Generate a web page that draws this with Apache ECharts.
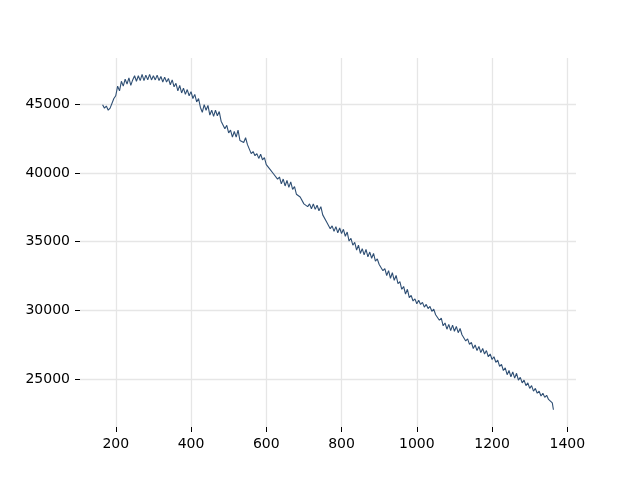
<!DOCTYPE html>
<html>
<head>
<meta charset="utf-8">
<script src="https://cdn.jsdelivr.net/npm/echarts@6/dist/echarts.min.js"></script>
<style>
html,body{margin:0;padding:0;background:#fff;}
#chart{width:640px;height:480px;}
</style>
</head>
<body>
<div id="chart"></div>
<script>
const xValues = [165,170,175,180,185,190,195,200,205,210,215,220,225,230,235,240,245,250,255,260,265,270,275,280,285,290,295,300,305,310,315,320,325,330,335,340,345,350,355,360,365,370,375,380,385,390,395,400,405,410,415,420,425,430,435,440,445,450,455,460,465,470,475,480,485,490,495,500,505,510,515,520,525,530,535,540,545,550,555,560,565,570,575,580,585,590,595,600,605,610,615,620,625,630,635,640,645,650,655,660,665,670,675,680,685,690,695,700,705,710,715,720,725,730,735,740,745,750,755,760,765,770,775,780,785,790,795,800,805,810,815,820,825,830,835,840,845,850,855,860,865,870,875,880,885,890,895,900,905,910,915,920,925,930,935,940,945,950,955,960,965,970,975,980,985,990,995,1000,1005,1010,1015,1020,1025,1030,1035,1040,1045,1050,1055,1060,1065,1070,1075,1080,1085,1090,1095,1100,1105,1110,1115,1120,1125,1130,1135,1140,1145,1150,1155,1160,1165,1170,1175,1180,1185,1190,1195,1200,1205,1210,1215,1220,1225,1230,1235,1240,1245,1250,1255,1260,1265,1270,1275,1280,1285,1290,1295,1300,1305,1310,1315,1320,1325,1330,1335,1340,1345,1350,1355,1360,1363];
const yValues = [
44950,44700,44850,44550,44700,44600,45400,45600,46300,45950,
46650,46300,46800,46450,46900,46350,46750,47050,46650,47050,
46700,47150,46700,47100,46750,47150,46750,47050,46750,47100,
46700,47000,46600,46950,46600,46850,46400,46750,46250,46500,
45950,46350,45800,46150,45700,46050,45600,45900,45400,45700,
45150,45400,44750,44400,44950,44550,44900,44200,44550,44100,
44550,44150,44450,43750,43850,43200,43450,42900,43100,42600,
43000,42600,43100,42350,42450,42200,42550,42050,42000,41400,
41550,41250,41400,41050,41350,40950,41100,40600,40500,40250,
40250,39900,39950,39550,39700,39200,39550,39050,39450,38950,
39350,38800,39000,38450,38550,38250,38250,37750,37850,37550,
37750,37400,37750,37350,37650,37250,37550,36950,37000,36450,
36550,35950,36150,35750,36100,35650,36000,35600,35900,35400,
35700,35050,35250,34750,34950,34400,34750,34150,34500,34050,
34450,33900,34250,33800,34150,33600,33750,33350,33450,32900,
33050,32550,32900,32350,32750,32200,32550,31950,32100,31550,
31750,31200,31550,30950,31100,30700,30850,30500,30750,30450,
30600,30250,30450,30150,30300,29950,30100,29700,29800,29300,
29450,28900,29100,28650,29000,28550,28950,28500,28850,28400,
28700,28250,28350,27800,27950,27550,27700,27250,27500,27100,
27400,26950,27250,26850,27100,26650,26850,26450,26650,26250,
26400,25950,26100,25650,25850,25350,25650,25200,25550,25100,
25450,24950,25150,24750,24950,24550,24750,24350,24550,24150,
24350,24000,24150,23800,24000,23700,23850,23550,23650,23300,
22800];
const xTicks = [200,400,600,800,1000,1200,1400];
const yTicks = [25000,30000,35000,40000,45000];

const chart = echarts.init(document.getElementById('chart'), null, {renderer:'canvas'});
const pairs = xValues.map((x,i)=>[x,yValues[i]]);
const labelStyle = {color:'#000', fontFamily:'DejaVu Sans', fontSize:14, formatter:(v)=>String(v)};
chart.setOption({
  animation:false,
  backgroundColor:'#fff',
  grid:{left:80,right:64,top:58,bottom:53,containLabel:false},
  xAxis:{
    type:'value', min:105, max:1423,
    axisLine:{show:false},
    axisTick:{show:true,length:5,lineStyle:{color:'#000',width:1},customValues:xTicks},
    axisLabel:Object.assign({margin:10,customValues:xTicks},labelStyle),
    splitLine:{show:true,lineStyle:{color:'#e6e6e6',width:1.3}}
  },
  yAxis:{
    type:'value', min:21550, max:48340,
    axisLine:{show:false},
    axisTick:{show:true,length:5,lineStyle:{color:'#000',width:1},customValues:yTicks},
    axisLabel:Object.assign({margin:10,customValues:yTicks},labelStyle),
    splitLine:{show:true,lineStyle:{color:'#e6e6e6',width:1.3}}
  },
  series:[{
    type:'line', data:pairs, showSymbol:false, symbol:'none',
    lineStyle:{color:'#2f4f74',width:1.1}, sampling:null
  }]
});
</script>
</body>
</html>
